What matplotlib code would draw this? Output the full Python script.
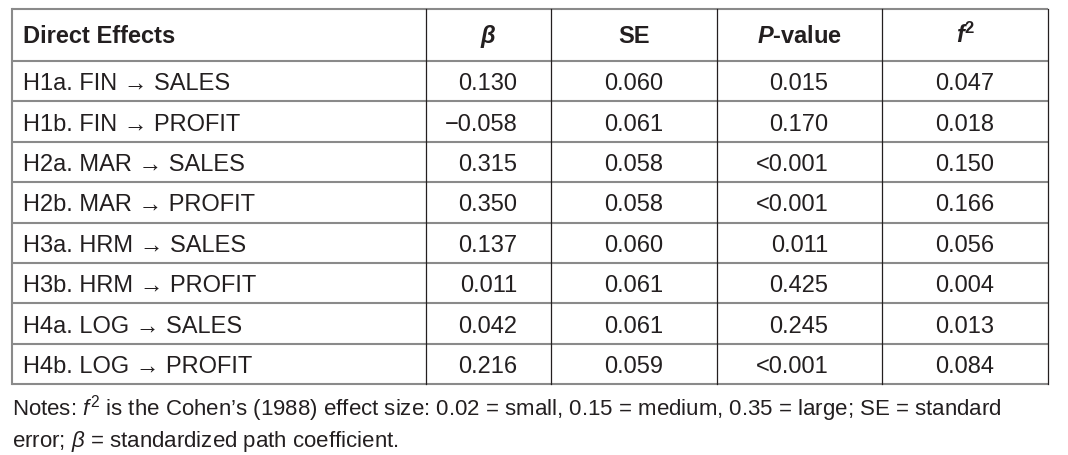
import matplotlib
matplotlib.use("Agg")
import matplotlib.pyplot as plt

plt.rcParams['font.family'] = ['Liberation Sans', 'DejaVu Sans']
plt.rcParams['mathtext.fontset'] = 'custom'
plt.rcParams['mathtext.rm'] = 'Liberation Sans'
plt.rcParams['mathtext.it'] = 'Liberation Sans:italic'
plt.rcParams['mathtext.bf'] = 'Liberation Sans:bold'
plt.rcParams['mathtext.bfit'] = 'Liberation Sans:italic:bold'

# table contents
headers = ["Direct Effects", r"$\mathbfit{\beta}$", "SE", r"$\mathbfit{P}$-value", r"$\mathbfit{f}^{\mathbf{2}}$"]
effects = ["H1a. FIN \u2192 SALES", "H1b. FIN \u2192 PROFIT",
           "H2a. MAR \u2192 SALES", "H2b. MAR \u2192 PROFIT",
           "H3a. HRM \u2192 SALES", "H3b. HRM \u2192 PROFIT",
           "H4a. LOG \u2192 SALES", "H4b. LOG \u2192 PROFIT"]
beta = [0.130, -0.058, 0.315, 0.350, 0.137, 0.011, 0.042, 0.216]
se = [0.060, 0.061, 0.058, 0.058, 0.060, 0.061, 0.061, 0.059]
pval = ["0.015", "0.170", "<0.001", "<0.001", "0.011", "0.425", "0.245", "<0.001"]
f2 = [0.047, 0.018, 0.150, 0.166, 0.056, 0.004, 0.013, 0.084]
notes = [r"Notes: $\mathit{f}^{2}$ is the Cohen’s (1988) effect size: 0.02 = small, 0.15 = medium, 0.35 = large; SE = standard",
         r"error; $\mathit{\beta}$ = standardized path coefficient."]

def fmt(v):
    return f"{v:.3f}".replace('-', '\u2212')

cols = [
    [fmt(v) for v in beta],
    [fmt(v) for v in se],
    pval,
    [fmt(v) for v in f2],
]

# layout in pixels
W, H = 1068, 455
xs = [12, 426, 551, 717, 882, 1048]
top, head_bot, row_h = 9, 61, 40.4
nrows = len(effects)
ys = [top, head_bot] + [head_bot + row_h * (i + 1) for i in range(nrows)]

txt = '#231f20'
gray = '#8a8a8a'
fs = 17

fig = plt.figure(figsize=(W / 100, H / 100), dpi=100)
ax = fig.add_axes([0, 0, 1, 1])
ax.set_xlim(0, W)
ax.set_ylim(H, 0)
ax.axis('off')

for y in ys:
    ax.plot([xs[0], xs[-1]], [y, y], color=gray, lw=1.5, solid_capstyle='butt')
ax.plot([xs[0], xs[0]], [ys[0], ys[-1]], color=gray, lw=1.5)
for x in xs[1:]:
    ax.plot([x, x], [ys[0], ys[-1]], color=txt, lw=0.9)

# header
ax.text(23, (ys[0] + ys[1]) / 2 + 8, headers[0], fontsize=fs, fontweight='bold',
        color=txt, va='baseline', ha='left')
for j in range(1, 5):
    cx = (xs[j] + xs[j + 1]) / 2
    ax.text(cx, (ys[0] + ys[1]) / 2 + 8, headers[j], fontsize=fs, fontweight='bold',
            color=txt, va='baseline', ha='center')

# body
for i in range(nrows):
    base = (ys[i + 1] + ys[i + 2]) / 2 + 9
    ax.text(23, base, effects[i], fontsize=fs, color=txt, va='baseline', ha='left')
    for j in range(4):
        cx = (xs[j + 1] + xs[j + 2]) / 2
        ax.text(cx + 29, base, cols[j][i], fontsize=fs, color=txt, va='baseline', ha='right')

ax.text(12, 415, notes[0], fontsize=16, color=txt, va='baseline', ha='left')
ax.text(12, 447, notes[1], fontsize=16, color=txt, va='baseline', ha='left')

fig.savefig('out.png', dpi=100)
